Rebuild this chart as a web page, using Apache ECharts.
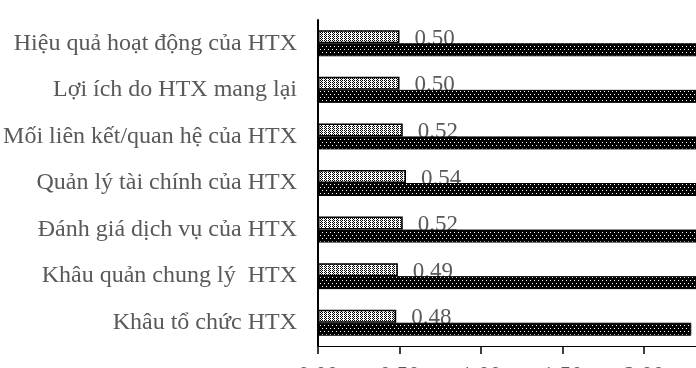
<!DOCTYPE html>
<html>
<head>
<meta charset="utf-8">
<script src="https://cdn.jsdelivr.net/npm/echarts@6/dist/echarts.min.js"></script>
<style>html,body{margin:0;padding:0;background:#fff;}#c{width:696px;height:368px;}</style>
</head>
<body>
<div id="c"></div>
<script>
// Categories (bottom to top, as on the y axis)
var categories = ["Khâu tổ chức HTX", "Khâu quản chung lý  HTX", "Đánh giá dịch vụ của HTX", "Quản lý tài chính của HTX", "Mối liên kết/quan hệ của HTX", "Lợi ích do HTX mang lại", "Hiệu quả hoạt động của HTX"];
// Dark series (mostly beyond the visible edge; values estimated)
var meanValues = [2.29, 2.45, 2.48, 2.50, 2.47, 2.52, 2.50];
// Light series (labelled)
var sdValues = [0.48, 0.49, 0.52, 0.54, 0.52, 0.50, 0.50];
var xTicks = [0, 0.5, 1, 1.5, 2, 2.5, 3, 3.5, 4];

function makePattern(w, h, bg, fg, pts) {
  var c = document.createElement('canvas');
  c.width = w; c.height = h;
  var g = c.getContext('2d');
  g.fillStyle = bg; g.fillRect(0, 0, w, h);
  g.fillStyle = fg;
  pts.forEach(function (p) { g.fillRect(p[0], p[1], 1, 1); });
  return { image: c, repeat: 'repeat' };
}
var lightPat = makePattern(4, 2, '#ffffff', '#000000', [[0, 0], [2, 0], [1, 1]]);
var darkPat = makePattern(4, 6, '#000000', '#ffffff', [[0, 1], [2, 4]]);

var chart = echarts.init(document.getElementById('c'), null, { renderer: 'canvas' });
var font = '"Liberation Serif", "Times New Roman", serif';
chart.setOption({
  animation: false,
  grid: { left: 318, top: 20, height: 326, width: 652, containLabel: false, outerBoundsMode: 'none' },
  xAxis: {
    type: 'value', min: xTicks[0], max: xTicks[xTicks.length - 1], interval: 0.5,
    axisLine: { show: true, lineStyle: { color: '#000', width: 1 } },
    axisTick: { show: true, length: 8, lineStyle: { color: '#000', width: 1.5 } },
    splitLine: { show: false },
    axisLabel: { formatter: function (v) { return v.toFixed(2); }, color: '#595959', fontFamily: font, fontSize: 23, margin: 18 }
  },
  yAxis: {
    type: 'category', data: categories,
    axisLine: { show: true, lineStyle: { color: '#000', width: 2 } },
    axisTick: { show: false },
    axisLabel: { color: '#595959', fontFamily: font, fontSize: 24, margin: 21 }
  },
  series: [
    {
      type: 'bar', name: 'sd', data: sdValues, barWidth: 13, barGap: '0%', z: 2,
      itemStyle: { color: lightPat, borderColor: '#000', borderWidth: 1.5 },
      label: {
        show: true, position: 'right', distance: 15, offset: [0, 2],
        formatter: function (p) { return p.value.toFixed(2); },
        color: '#595959', fontFamily: font, fontSize: 23
      }
    },
    {
      type: 'bar', name: 'mean', data: meanValues, barWidth: 13, barGap: '0%', z: 3,
      itemStyle: { color: darkPat, borderColor: '#000', borderWidth: 1 }
    }
  ]
});
</script>
</body>
</html>
